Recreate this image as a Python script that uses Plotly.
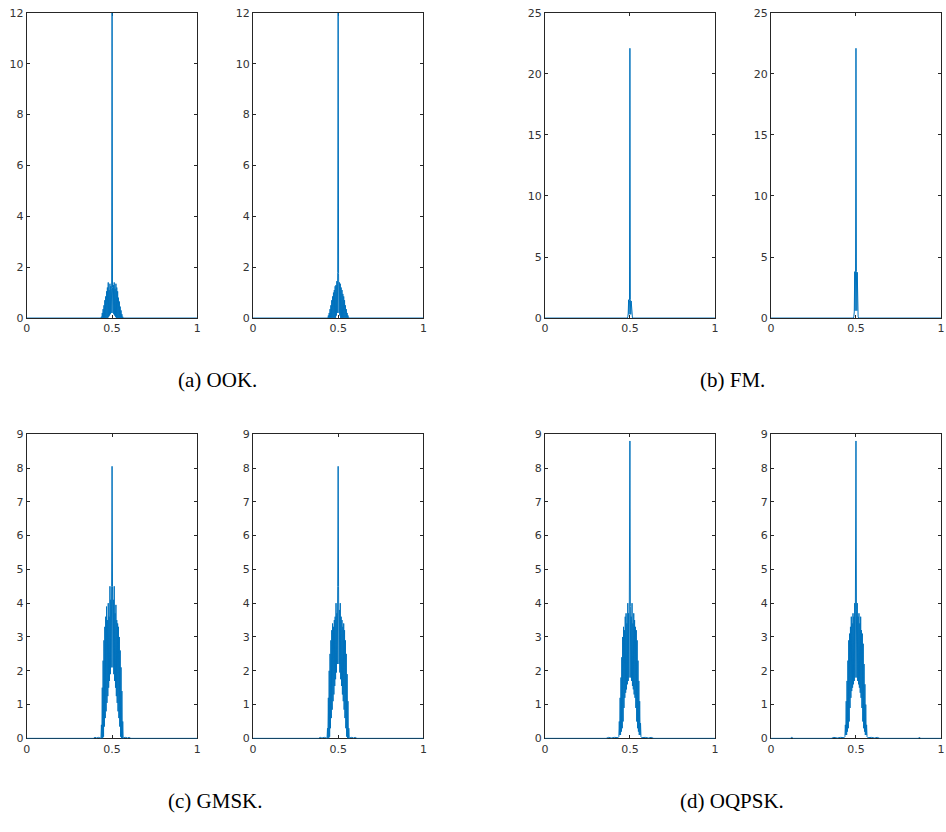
import plotly.graph_objects as go

# ---------------- data ----------------
X_BAND = [0.435, 0.4375, 0.44, 0.4425, 0.445, 0.4475, 0.45, 0.4525, 0.455, 0.4575,
          0.46, 0.4625, 0.465, 0.4675, 0.47, 0.4725, 0.475, 0.4775, 0.48, 0.4825,
          0.485, 0.4875, 0.49, 0.4925, 0.495, 0.4975, 0.5, 0.5025, 0.505, 0.5075,
          0.51, 0.5125, 0.515, 0.5175, 0.52, 0.5225, 0.525, 0.5275, 0.53, 0.5325,
          0.535, 0.5375, 0.54, 0.5425, 0.545, 0.5475, 0.55, 0.5525, 0.555, 0.5575,
          0.56, 0.5625, 0.565]

ook1_y = [0, 0.05, 0, 0.2, 0, 0.35, 0, 0.5, 0, 0.7, 0, 0.85, 0, 1.05, 0, 1.2, 0, 1.4, 0.05, 1.1,
          0.1, 1.35, 0.15, 1.25, 0.2, 1.15, 13.5, 1.2, 0.2, 1.3, 0.15, 1.4, 0.1, 1.15, 0.05, 1.35,
          0, 1.2, 0, 1.05, 0, 0.8, 0, 0.65, 0, 0.45, 0, 0.3, 0, 0.15, 0, 0.05, 0]
ook2_y = [0, 0.02, 0, 0.1, 0, 0.2, 0, 0.35, 0, 0.5, 0, 0.7, 0, 0.85, 0, 1.0, 0, 1.1, 0, 1.25,
          0, 1.3, 0.1, 1.45, 0.2, 1.8, 13.5, 1.75, 0.2, 1.4, 0.1, 1.35, 0, 1.2, 0, 1.1,
          0, 0.95, 0, 0.85, 0, 0.7, 0, 0.5, 0, 0.35, 0, 0.2, 0, 0.1, 0, 0.02, 0]
gmsk1_y = [0, 0.4, 0, 1.5, 0, 2.3, 0.05, 2.9, 0.35, 3.3, 0.6, 3.6, 0.8, 3.9, 1.05, 3.5, 1.25, 4.0,
           1.5, 3.6, 1.7, 4.5, 1.9, 4.1, 2.1, 4.5, 8.05, 4.5, 2.1, 4.1, 1.9, 4.5, 1.7, 3.7, 1.5,
           3.95, 1.25, 3.5, 1.05, 3.4, 0.8, 3.3, 0.6, 3.0, 0.35, 2.6, 0.05, 2.1, 0, 1.4, 0, 0.5, 0]
gmsk2_y = [0, 0.3, 0, 1.2, 0, 2.0, 0.05, 2.5, 0.3, 2.9, 0.6, 3.2, 0.85, 3.4, 1.1, 3.3, 1.3, 3.5,
           1.55, 3.6, 1.75, 4.0, 1.95, 3.7, 2.2, 4.5, 8.05, 4.5, 2.2, 3.8, 1.95, 4.0, 1.75, 3.6,
           1.55, 3.5, 1.3, 3.3, 1.1, 3.4, 0.85, 3.2, 0.6, 2.9, 0.3, 2.5, 0.05, 1.9, 0, 1.1, 0, 0.3, 0]
oqpsk1_y = [0.05, 0.5, 0.1, 1.2, 0.1, 1.8, 0.2, 2.4, 0.3, 3.0, 0.5, 3.3, 0.9, 3.2, 1.2, 3.6, 1.35,
            3.7, 1.45, 3.4, 1.6, 4.0, 1.7, 3.7, 1.8, 4.0, 8.8, 3.9, 1.8, 3.6, 1.7, 4.0, 1.55, 3.4,
            1.45, 3.7, 1.3, 3.5, 1.2, 3.3, 0.9, 3.2, 0.5, 2.9, 0.3, 2.3, 0.2, 1.7, 0.1, 1.1, 0.1, 0.45, 0.05]
oqpsk2_y = [0.05, 0.4, 0.1, 1.1, 0.1, 1.7, 0.2, 2.3, 0.3, 2.9, 0.5, 3.1, 0.9, 3.3, 1.2, 3.6, 1.4,
            3.4, 1.5, 3.7, 1.6, 3.6, 1.7, 4.0, 1.8, 3.7, 8.8, 3.8, 1.8, 4.0, 1.7, 3.6, 1.6, 3.7,
            1.5, 3.4, 1.35, 3.6, 1.2, 3.2, 0.9, 3.1, 0.5, 2.8, 0.3, 2.2, 0.2, 1.6, 0.1, 1.0, 0.1, 0.4, 0.05]

# side segments (outside the main band)
ook_lead_x, ook_lead_y = [0.0, 0.43], [0, 0]
ook_trail_x, ook_trail_y = [0.57, 1.0], [0, 0]
gmsk1_lead_x, gmsk1_lead_y = [0.0, 0.39, 0.4, 0.41, 0.42, 0.43], [0, 0, 0.03, 0.01, 0.03, 0.02]
gmsk1_trail_x, gmsk1_trail_y = [0.57, 0.58, 0.59, 0.6, 0.61, 1.0], [0.02, 0.03, 0.01, 0.03, 0, 0]
gmsk2_lead_x, gmsk2_lead_y = [0.0, 0.385, 0.395, 0.405, 0.42, 0.43], [0, 0, 0.03, 0.01, 0.03, 0.02]
gmsk2_trail_x, gmsk2_trail_y = [0.57, 0.58, 0.59, 0.6, 0.61, 1.0], [0.02, 0.03, 0.01, 0.03, 0, 0]
oqpsk1_lead_x, oqpsk1_lead_y = [0.0, 0.36, 0.375, 0.39, 0.41, 0.43], [0, 0, 0.03, 0.01, 0.03, 0.02]
oqpsk1_trail_x, oqpsk1_trail_y = [0.57, 0.59, 0.61, 0.625, 0.64, 1.0], [0.02, 0.03, 0.01, 0.03, 0, 0]
oqpsk2_lead_x = [0.0, 0.115, 0.12, 0.125, 0.13, 0.355, 0.37, 0.39, 0.41, 0.43]
oqpsk2_lead_y = [0, 0, 0.03, 0.03, 0, 0, 0.03, 0.01, 0.03, 0.02]
oqpsk2_trail_x = [0.57, 0.59, 0.61, 0.625, 0.64, 0.865, 0.87, 0.875, 0.88, 1.0]
oqpsk2_trail_y = [0.02, 0.03, 0.01, 0.03, 0, 0, 0.03, 0.03, 0, 0]

X_FM = [0.0, 0.485, 0.4875, 0.49, 0.4925, 0.495, 0.4975, 0.5, 0.5025, 0.505, 0.5075, 0.51, 0.5125, 0.515, 1.0]
fm1_y = [0, 0, 0.1, 0.4, 1.5, 0.3, 1.45, 22.1, 1.5, 0.3, 1.4, 0.35, 0.1, 0, 0]
fm2_y = [0, 0, 0.15, 0.5, 3.8, 0.6, 3.85, 22.1, 3.8, 0.6, 3.75, 0.5, 0.15, 0, 0]

X_TICKS = [0, 0.5, 1]
X_TICK_TEXT = ["0", "0.5", "1"]
Y_TICKS_OOK = [0, 2, 4, 6, 8, 10, 12]
Y_TICKS_FM = [0, 5, 10, 15, 20, 25]
Y_TICKS_9 = [0, 1, 2, 3, 4, 5, 6, 7, 8, 9]
CAPTIONS = ["(a) OOK.", "(b) FM.", "(c) GMSK.", "(d) OQPSK."]

# ---------------- layout geometry ----------------
W, H = 946, 832
COLS = [(23, 195), (251, 423), (545.5, 717), (773.5, 945)]
ROWS = [(7, 317), (435, 744)]

series = [
    (ook_lead_x + X_BAND + ook_trail_x, ook_lead_y + ook1_y + ook_trail_y, 0, 0, [0, 12], Y_TICKS_OOK),
    (ook_lead_x + X_BAND + ook_trail_x, ook_lead_y + ook2_y + ook_trail_y, 0, 1, [0, 12], Y_TICKS_OOK),
    (X_FM, fm1_y, 0, 2, [0, 25], Y_TICKS_FM),
    (X_FM, fm2_y, 0, 3, [0, 25], Y_TICKS_FM),
    (gmsk1_lead_x + X_BAND + gmsk1_trail_x, gmsk1_lead_y + gmsk1_y + gmsk1_trail_y, 1, 0, [0, 9], Y_TICKS_9),
    (gmsk2_lead_x + X_BAND + gmsk2_trail_x, gmsk2_lead_y + gmsk2_y + gmsk2_trail_y, 1, 1, [0, 9], Y_TICKS_9),
    (oqpsk1_lead_x + X_BAND + oqpsk1_trail_x, oqpsk1_lead_y + oqpsk1_y + oqpsk1_trail_y, 1, 2, [0, 9], Y_TICKS_9),
    (oqpsk2_lead_x + X_BAND + oqpsk2_trail_x, oqpsk2_lead_y + oqpsk2_y + oqpsk2_trail_y, 1, 3, [0, 9], Y_TICKS_9),
]

fig = go.Figure()
axis_common = dict(
    showline=True, linecolor="#262626", linewidth=1, mirror="ticks",
    ticks="inside", ticklen=3, tickwidth=1, tickcolor="#262626",
    showgrid=False, zeroline=False, layer="below traces",
    tickfont=dict(family="DejaVu Sans", size=11, color="#333333"),
)
layout_axes = {}
for k, (xs, ys, r, c, yr, yt) in enumerate(series):
    assert len(xs) == len(ys)
    n = k + 1
    xa = "x" if n == 1 else f"x{n}"
    ya = "y" if n == 1 else f"y{n}"
    fig.add_trace(go.Scatter(x=xs, y=ys, mode="lines", xaxis=xa, yaxis=ya,
                             line=dict(color="#0072BD", width=1), showlegend=False,
                             hoverinfo="skip"))
    x0, x1 = COLS[c]
    y0, y1 = ROWS[r]
    layout_axes["xaxis" if n == 1 else f"xaxis{n}"] = dict(
        axis_common, domain=[x0 / W, x1 / W], range=[0, 1], anchor=ya,
        tickvals=X_TICKS, ticktext=X_TICK_TEXT)
    layout_axes["yaxis" if n == 1 else f"yaxis{n}"] = dict(
        axis_common, domain=[1 - y1 / H, 1 - y0 / H], range=yr, anchor=xa,
        tickvals=yt, ticktext=[str(v) for v in yt])

cap_pos = [(215, 380), (735, 380), (213, 808), (734, 808)]
annotations = []
for text, (cx, cy) in zip(CAPTIONS, cap_pos):
    annotations.append(dict(text=text, x=cx / W, y=1 - cy / H, xref="paper", yref="paper",
                            showarrow=False, xanchor="center", yanchor="middle",
                            font=dict(family="Liberation Serif", size=21, color="#000000")))

fig.update_layout(width=W, height=H, margin=dict(l=0, r=0, t=0, b=0),
                  paper_bgcolor="white", plot_bgcolor="white",
                  annotations=annotations, **layout_axes)
fig.write_html("out.html", config={"displayModeBar": False},
               post_script="document.body.style.margin='0';document.body.style.overflow='hidden';")
